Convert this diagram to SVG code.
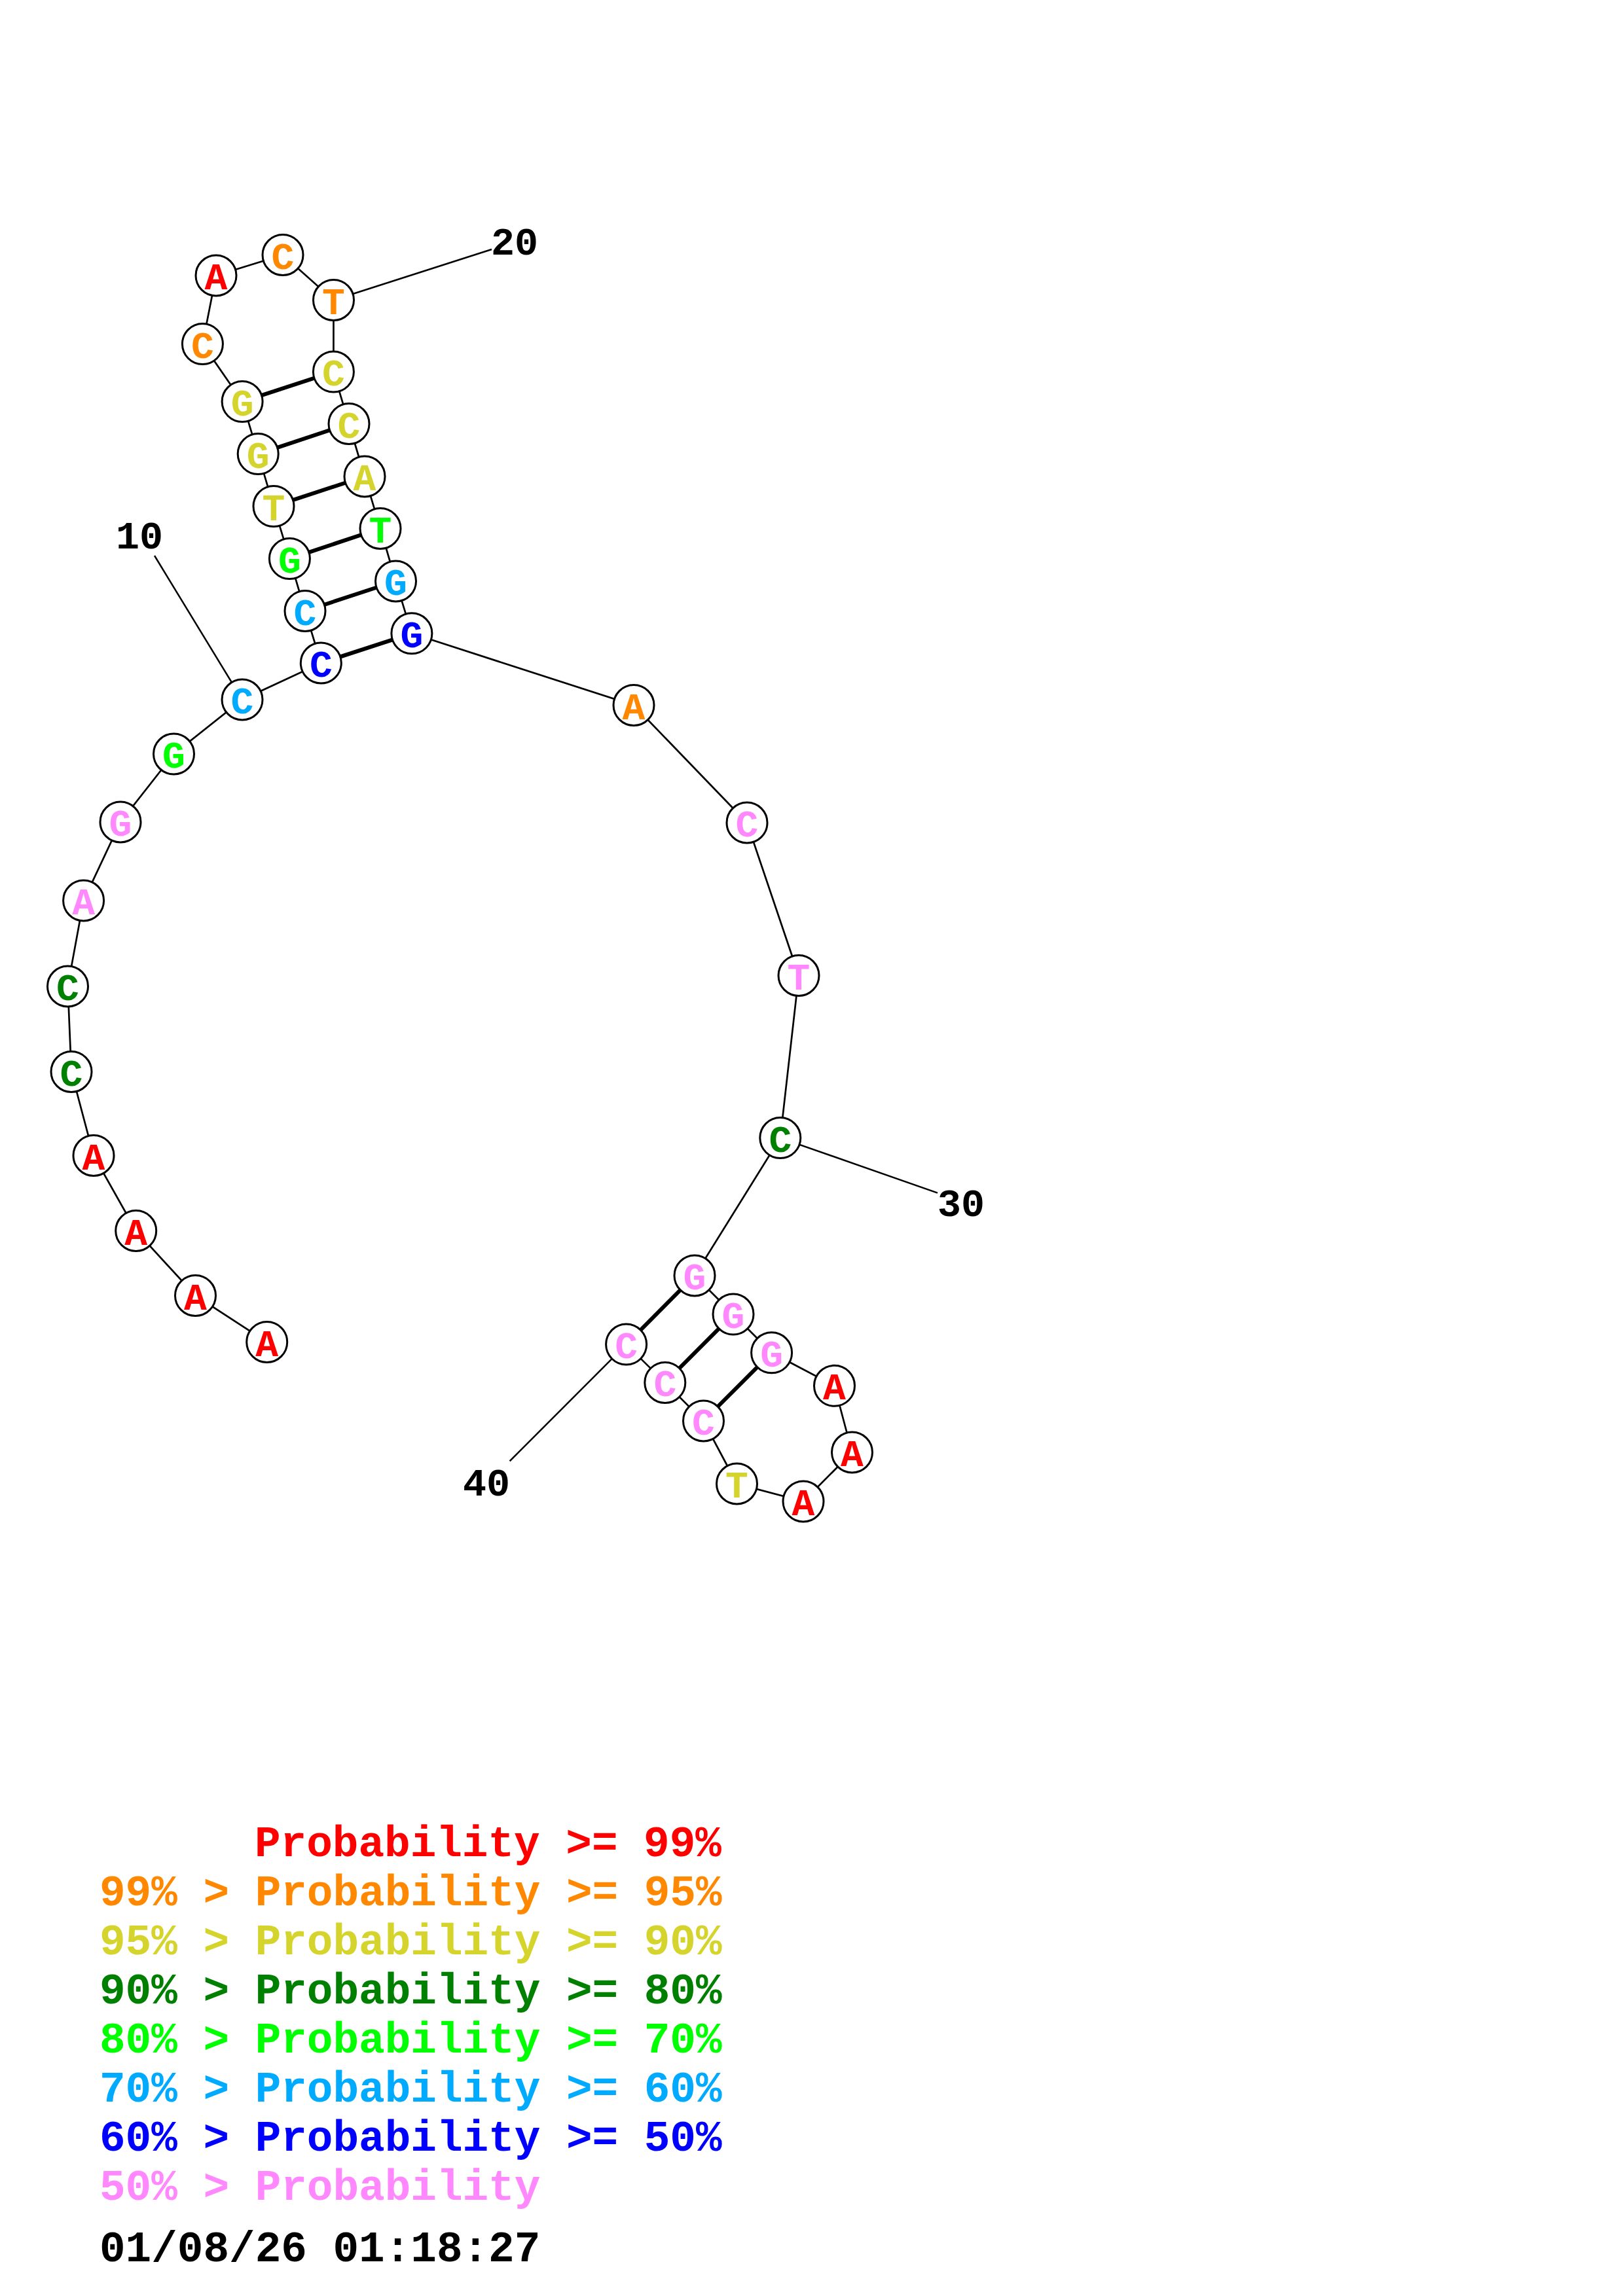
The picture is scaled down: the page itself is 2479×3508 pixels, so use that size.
<svg xmlns="http://www.w3.org/2000/svg" width="2479" height="3508" viewBox="0 0 2479 3508">
<style>
.bb{stroke:#000;stroke-width:2.7;fill:none}
.pr{stroke:#000;stroke-width:6;fill:none}
.lb{stroke:#000;stroke-width:2.5;fill:none}
circle{fill:#fff;stroke:#000;stroke-width:3}
.n text{font-family:"Liberation Mono",monospace;font-weight:bold;font-size:58px;text-anchor:middle}
.num{font-family:"Liberation Mono",monospace;font-weight:bold;font-size:60px;fill:#000}
.lg{font-family:"Liberation Mono",monospace;font-weight:bold;font-size:66px}
.r{fill:#FF0000}.o{fill:#FF8800}.y{fill:#D4D42C}.dg{fill:#008000}.g{fill:#00FF00}.lbl{fill:#00AAFF}.b{fill:#0000FF}.p{fill:#FF88FF}
</style>
<rect width="2479" height="3508" fill="#fff"/>
<g id="connectors">
<polyline class="bb" points="407.7,2050.5 298.5,1979.5 207.7,1880.5 143,1765.5 109,1637.5 103.5,1507 127.6,1376 184,1256 265.5,1152 370,1069 490.3,1013 466,933.5 442.4,853.6 418,773.6 394.2,693.6 370.1,613.6 309.4,525.6 330,421 432,389.5 509.5,458.5 509.4,568.1 533,647.5 557,728 581,807.5 604.5,888 628.9,967.8 968,1077.5 1141,1257 1220,1490.5 1191.8,1738.6 1061,1949 1120,2008 1178.6,2066.8 1274.5,2117.3 1301.5,2219 1227,2294 1125.5,2267 1074.5,2171 1015.8,2112.4 956.6,2054.1"/>
<line class="pr" x1="490.3" y1="1013" x2="628.9" y2="967.8"/>
<line class="pr" x1="466" y1="933.5" x2="604.5" y2="888"/>
<line class="pr" x1="442.4" y1="853.6" x2="581" y2="807.5"/>
<line class="pr" x1="418" y1="773.6" x2="557" y2="728"/>
<line class="pr" x1="394.2" y1="693.6" x2="533" y2="647.5"/>
<line class="pr" x1="370.1" y1="613.6" x2="509.4" y2="568.1"/>
<line class="pr" x1="1061" y1="1949" x2="956.6" y2="2054.1"/>
<line class="pr" x1="1120" y1="2008" x2="1015.8" y2="2112.4"/>
<line class="pr" x1="1178.6" y1="2066.8" x2="1074.5" y2="2171"/>
<line class="lb" x1="370" y1="1069" x2="236" y2="849"/>
<line class="lb" x1="509.5" y1="458.5" x2="751" y2="381"/>
<line class="lb" x1="1191.8" y1="1738.6" x2="1432" y2="1822.6"/>
<line class="lb" x1="956.6" y1="2054.1" x2="778.6" y2="2232.3"/>
</g>
<g id="n1" class="n"><circle cx="407.7" cy="2050.5" r="31"/><text x="407.7" y="2071.5" class="r">A</text></g>
<g id="n2" class="n"><circle cx="298.5" cy="1979.5" r="31"/><text x="298.5" y="2000.5" class="r">A</text></g>
<g id="n3" class="n"><circle cx="207.7" cy="1880.5" r="31"/><text x="207.7" y="1901.5" class="r">A</text></g>
<g id="n4" class="n"><circle cx="143" cy="1765.5" r="31"/><text x="143" y="1786.5" class="r">A</text></g>
<g id="n5" class="n"><circle cx="109" cy="1637.5" r="31"/><text x="109" y="1658.5" class="dg">C</text></g>
<g id="n6" class="n"><circle cx="103.5" cy="1507" r="31"/><text x="103.5" y="1528" class="dg">C</text></g>
<g id="n7" class="n"><circle cx="127.6" cy="1376" r="31"/><text x="127.6" y="1397" class="p">A</text></g>
<g id="n8" class="n"><circle cx="184" cy="1256" r="31"/><text x="184" y="1277" class="p">G</text></g>
<g id="n9" class="n"><circle cx="265.5" cy="1152" r="31"/><text x="265.5" y="1173" class="g">G</text></g>
<g id="n10" class="n"><circle cx="370" cy="1069" r="31"/><text x="370" y="1090" class="lbl">C</text></g>
<g id="n11" class="n"><circle cx="490.3" cy="1013" r="31"/><text x="490.3" y="1034" class="b">C</text></g>
<g id="n12" class="n"><circle cx="466" cy="933.5" r="31"/><text x="466" y="954.5" class="lbl">C</text></g>
<g id="n13" class="n"><circle cx="442.4" cy="853.6" r="31"/><text x="442.4" y="874.6" class="g">G</text></g>
<g id="n14" class="n"><circle cx="418" cy="773.6" r="31"/><text x="418" y="794.6" class="y">T</text></g>
<g id="n15" class="n"><circle cx="394.2" cy="693.6" r="31"/><text x="394.2" y="714.6" class="y">G</text></g>
<g id="n16" class="n"><circle cx="370.1" cy="613.6" r="31"/><text x="370.1" y="634.6" class="y">G</text></g>
<g id="n17" class="n"><circle cx="309.4" cy="525.6" r="31"/><text x="309.4" y="546.6" class="o">C</text></g>
<g id="n18" class="n"><circle cx="330" cy="421" r="31"/><text x="330" y="442" class="r">A</text></g>
<g id="n19" class="n"><circle cx="432" cy="389.5" r="31"/><text x="432" y="410.5" class="o">C</text></g>
<g id="n20" class="n"><circle cx="509.5" cy="458.5" r="31"/><text x="509.5" y="479.5" class="o">T</text></g>
<g id="n21" class="n"><circle cx="509.4" cy="568.1" r="31"/><text x="509.4" y="589.1" class="y">C</text></g>
<g id="n22" class="n"><circle cx="533" cy="647.5" r="31"/><text x="533" y="668.5" class="y">C</text></g>
<g id="n23" class="n"><circle cx="557" cy="728" r="31"/><text x="557" y="749" class="y">A</text></g>
<g id="n24" class="n"><circle cx="581" cy="807.5" r="31"/><text x="581" y="828.5" class="g">T</text></g>
<g id="n25" class="n"><circle cx="604.5" cy="888" r="31"/><text x="604.5" y="909" class="lbl">G</text></g>
<g id="n26" class="n"><circle cx="628.9" cy="967.8" r="31"/><text x="628.9" y="988.8" class="b">G</text></g>
<g id="n27" class="n"><circle cx="968" cy="1077.5" r="31"/><text x="968" y="1098.5" class="o">A</text></g>
<g id="n28" class="n"><circle cx="1141" cy="1257" r="31"/><text x="1141" y="1278" class="p">C</text></g>
<g id="n29" class="n"><circle cx="1220" cy="1490.5" r="31"/><text x="1220" y="1511.5" class="p">T</text></g>
<g id="n30" class="n"><circle cx="1191.8" cy="1738.6" r="31"/><text x="1191.8" y="1759.6" class="dg">C</text></g>
<g id="n31" class="n"><circle cx="1061" cy="1949" r="31"/><text x="1061" y="1970" class="p">G</text></g>
<g id="n32" class="n"><circle cx="1120" cy="2008" r="31"/><text x="1120" y="2029" class="p">G</text></g>
<g id="n33" class="n"><circle cx="1178.6" cy="2066.8" r="31"/><text x="1178.6" y="2087.8" class="p">G</text></g>
<g id="n34" class="n"><circle cx="1274.5" cy="2117.3" r="31"/><text x="1274.5" y="2138.3" class="r">A</text></g>
<g id="n35" class="n"><circle cx="1301.5" cy="2219" r="31"/><text x="1301.5" y="2240" class="r">A</text></g>
<g id="n36" class="n"><circle cx="1227" cy="2294" r="31"/><text x="1227" y="2315" class="r">A</text></g>
<g id="n37" class="n"><circle cx="1125.5" cy="2267" r="31"/><text x="1125.5" y="2288" class="y">T</text></g>
<g id="n38" class="n"><circle cx="1074.5" cy="2171" r="31"/><text x="1074.5" y="2192" class="p">C</text></g>
<g id="n39" class="n"><circle cx="1015.8" cy="2112.4" r="31"/><text x="1015.8" y="2133.4" class="p">C</text></g>
<g id="n40" class="n"><circle cx="956.6" cy="2054.1" r="31"/><text x="956.6" y="2075.1" class="p">C</text></g>
<g id="labels">
<text class="num" x="177" y="837.6">10</text>
<text class="num" x="750" y="388.7">20</text>
<text class="num" x="1432" y="1858">30</text>
<text class="num" x="707" y="2285">40</text>
</g>
<g id="legend">
<text class="lg r" x="389" y="2836">Probability &gt;= 99%</text>
<text class="lg o" x="152" y="2911">99% &gt; Probability &gt;= 95%</text>
<text class="lg y" x="152" y="2986">95% &gt; Probability &gt;= 90%</text>
<text class="lg dg" x="152" y="3061">90% &gt; Probability &gt;= 80%</text>
<text class="lg g" x="152" y="3136">80% &gt; Probability &gt;= 70%</text>
<text class="lg lbl" x="152" y="3211">70% &gt; Probability &gt;= 60%</text>
<text class="lg b" x="152" y="3286">60% &gt; Probability &gt;= 50%</text>
<text class="lg p" x="152" y="3361">50% &gt; Probability</text>
<text class="lg" x="152" y="3455" fill="#000">01/08/26 01:18:27</text>
</g>
</svg>
